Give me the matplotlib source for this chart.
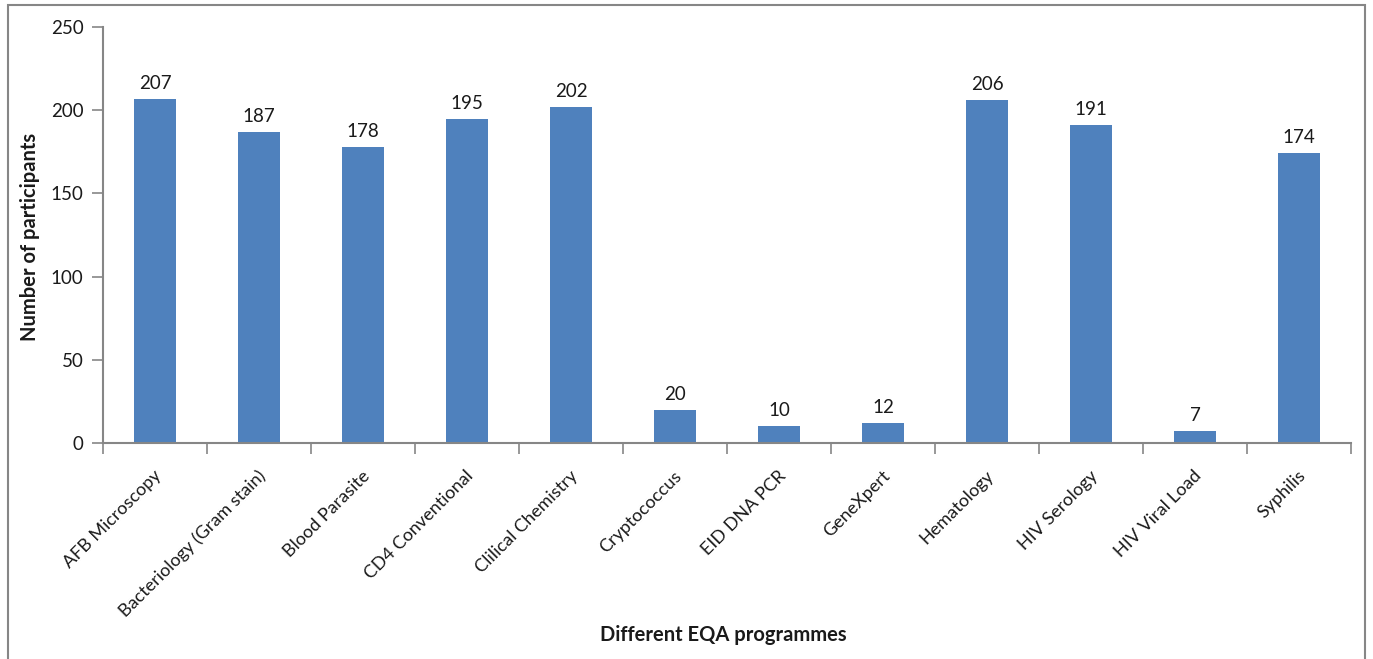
import matplotlib
matplotlib.use("Agg")
import matplotlib.pyplot as plt
from matplotlib.patches import Rectangle

# Data
programmes = ["AFB Microscopy", "Bacteriology (Gram stain)", "Blood Parasite",
              "CD4 Conventional", "Clilical Chemistry", "Cryptococcus",
              "EID DNA PCR", "GeneXpert", "Hematology", "HIV Serology",
              "HIV Viral Load", "Syphilis"]
participants = [207, 187, 178, 195, 202, 20, 10, 12, 206, 191, 7, 174]
y_ticks = [0, 50, 100, 150, 200, 250]

plt.rcParams['font.family'] = ['Lato', 'DejaVu Sans']
axis_grey = '#868686'
text_col = '#1a1a1a'

fig = plt.figure(figsize=(13.73, 6.59), dpi=100)
ax = fig.add_axes([0.075, 0.328, 0.909, 0.631])

x = list(range(len(programmes)))
bars = ax.bar(x, participants, width=0.4, color='#4F81BD', zorder=2)
ax.bar_label(bars, labels=[str(v) for v in participants], padding=5,
             fontsize=13.5, color=text_col)

ax.set_xlim(-0.5, len(programmes) - 0.5)
ax.set_ylim(0, 250)
ax.set_yticks(y_ticks)
ax.tick_params(axis='y', direction='out', length=8, width=1.2, color=axis_grey,
               labelsize=13.5, labelcolor=text_col, pad=6)

# ticks between categories, labels at centres
ax.set_xticks([i - 0.5 for i in range(len(programmes) + 1)])
ax.set_xticklabels([])
ax.tick_params(axis='x', direction='out', length=8, width=1.2, color=axis_grey)
for i, name in enumerate(programmes):
    ax.annotate(name, xy=(i, 0), xycoords=('data', 'axes fraction'),
                xytext=(3, -22), textcoords='offset points',
                rotation=45, rotation_mode='anchor', ha='right', va='center',
                fontsize=13, color=text_col)

for side in ['top', 'right']:
    ax.spines[side].set_visible(False)
for side in ['left', 'bottom']:
    ax.spines[side].set_color(axis_grey)
    ax.spines[side].set_linewidth(1.5)

fig.text(0.022, 0.64, 'Number of participants', rotation=90, ha='center',
         va='center', fontsize=14.5, fontweight='bold', color=text_col)
fig.text(0.527, 0.036, 'Different EQA programmes', ha='center', va='center',
         fontsize=14.5, fontweight='bold', color=text_col)

# outer frame (cut off at the bottom)
fig.patches.append(Rectangle((0.006, -0.05), 0.988, 1.042, transform=fig.transFigure,
                             fill=False, edgecolor=axis_grey, linewidth=1.5))

fig.savefig('out.png', dpi=100)
